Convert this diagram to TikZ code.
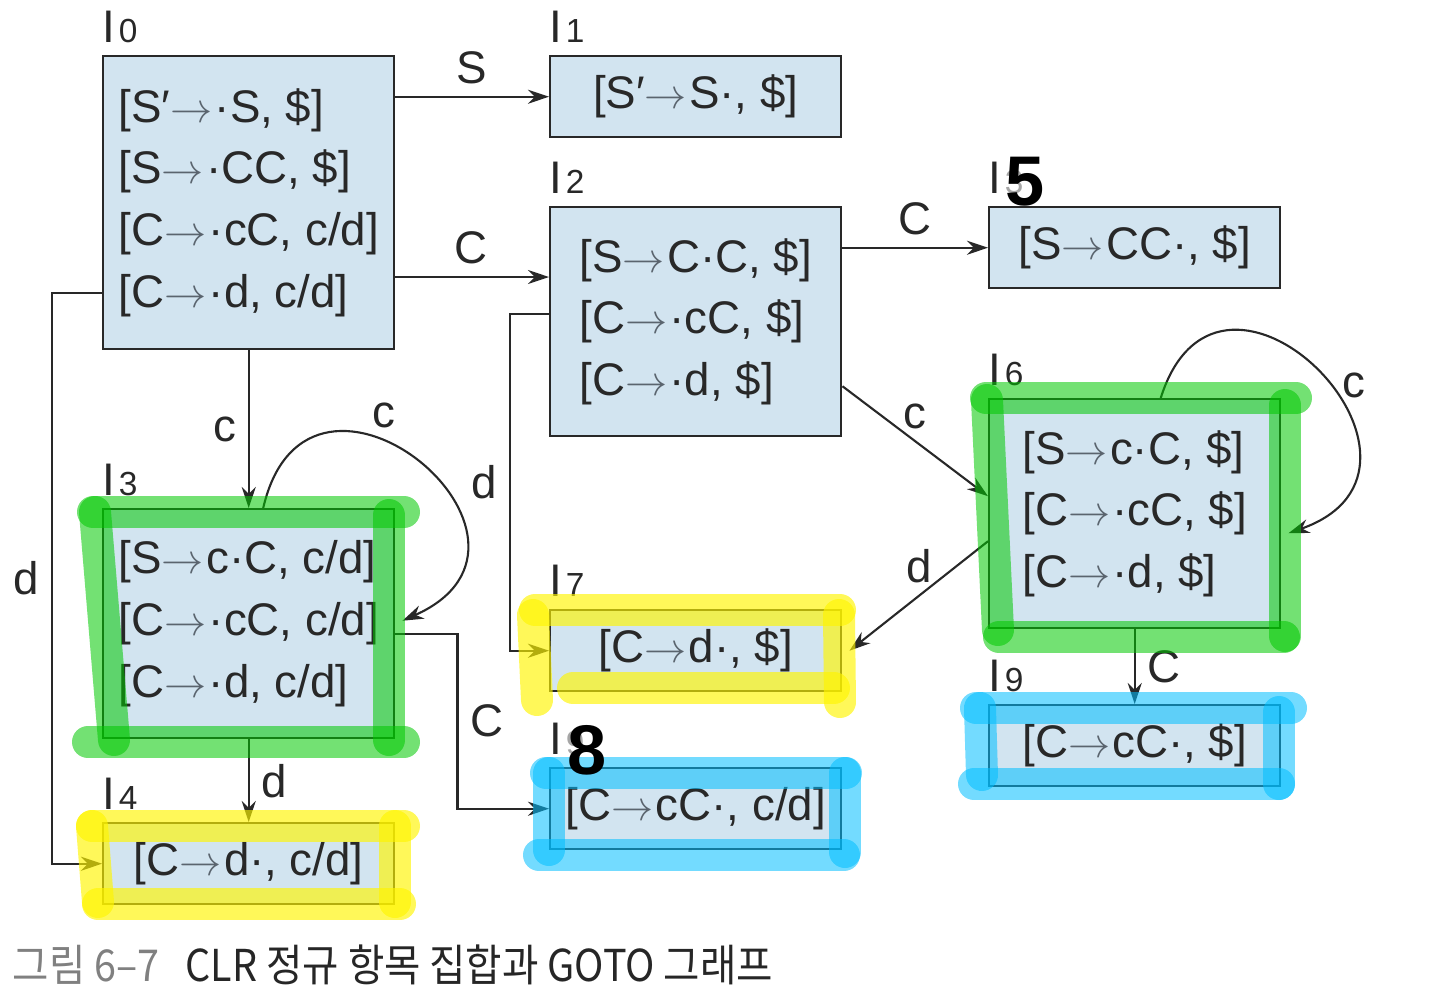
\documentclass[tikz,border=0pt]{standalone}
\usepackage{fontspec}
\setmainfont{Liberation Sans}
\newfontfamily\krfont[FakeStretch=0.9]{Noto Sans CJK KR}
\usepackage{xcolor}
\usetikzlibrary{arrows.meta,positioning,calc}

\definecolor{boxblue}{RGB}{210,228,240}
\definecolor{ink}{RGB}{40,40,40}
\definecolor{arrowgray}{RGB}{90,100,110}
\definecolor{hlgreen}{RGB}{0,200,0}
\definecolor{hlyellow}{RGB}{255,245,0}
\definecolor{hlcyan}{RGB}{0,190,255}

\newcommand{\yields}{{\color{arrowgray}$\rightarrow\mkern1mu$}}
\newcommand{\setno}[1]{I\kern1pt{\fontsize{9.5}{9.5}\selectfont #1}}

\tikzset{
    >={Stealth[length=6pt,width=4pt]},
    itemset/.style={draw=ink, fill=boxblue, line width=0.7pt, anchor=north west,
        align=left, inner sep=0pt, minimum width=29.1mm, text=ink,
        font=\fontsize{13}{17.6}\selectfont},
    onerow/.style={minimum height=8.1mm},
    threerow/.style={minimum height=22.9mm},
    fourrow/.style={minimum height=29.3mm},
    setname/.style={anchor=base west, inner sep=0pt, text=ink,
        font=\fontsize{13}{13}\selectfont},
    edgelabel/.style={font=\fontsize{13}{13}\selectfont, text=ink},
    goto/.style={->, draw=ink, line width=0.6pt},
    pen/.style={font=\fontsize{20}{20}\selectfont\bfseries, text=black, inner sep=0pt},
    marker/.style={line width=3.2mm, line cap=round},
    greenmark/.style={marker, draw=hlgreen, opacity=0.55},
    yellowmark/.style={marker, draw=hlyellow, opacity=0.65},
    cyanmark/.style={marker, draw=hlcyan, opacity=0.55},
}

\begin{document}
\begin{tikzpicture}[x=0.1mm, y=-0.1mm]
\useasboundingbox (0,0) rectangle (1455,1000);

% item sets
\node[itemset, fourrow] (i0) at (102,55)
    {{[}S′\yields·S, \$]\\ {[}S\yields·CC, \$]\\ {[}C\yields·cC, c/d]\\ {[}C\yields·d, c/d]};
\node[itemset, onerow] (i1) at (549,55) {{[}S′\yields S·, \$]};
\node[itemset, threerow] (i2) at (549,206)
    {{[}S\yields C·C, \$]\\ {[}C\yields·cC, \$]\\ {[}C\yields·d, \$]};
\node[itemset, onerow] (i5) at (988,206) {{[}S\yields CC·, \$]};
\node[itemset, threerow] (i6) at (988,398)
    {{[}S\yields c·C, \$]\\ {[}C\yields·cC, \$]\\ {[}C\yields·d, \$]};
\node[itemset, onerow] (i9) at (988,704) {{[}C\yields cC·, \$]};
\node[itemset, threerow] (i3) at (102,508)
    {{[}S\yields c·C, c/d]\\ {[}C\yields·cC, c/d]\\ {[}C\yields·d, c/d]};
\node[itemset, onerow] (i4) at (102,822) {{[}C\yields d·, c/d]};
\node[itemset, onerow] (i7) at (549,609) {{[}C\yields d·, \$]};
\node[itemset, onerow] (i8) at (549,767) {{[}C\yields cC·, c/d]};

% set names
\node[setname] (n0) at ([yshift=1.3mm]i0.north west) {\setno{0}};
\node[setname] (n1) at ([yshift=1.3mm]i1.north west) {\setno{1}};
\node[setname] (n2) at ([yshift=1.3mm]i2.north west) {\setno{2}};
\node[setname] (n5) at ([yshift=1.3mm]i5.north west) {\setno{\color{gray!70}3}};
\node[setname] (n6) at ([yshift=1.3mm]i6.north west) {\setno{6}};
\node[setname] (n9) at ([yshift=1.3mm]i9.north west) {\setno{9}};
\node[setname] (n3) at ([yshift=1.3mm]i3.north west) {\setno{3}};
\node[setname] (n4) at ([yshift=1.3mm]i4.north west) {\setno{4}};
\node[setname] (n7) at ([yshift=1.3mm]i7.north west) {\setno{7}};
\node[setname] (n8) at ([yshift=1.3mm]i8.north west) {\setno{\color{gray!70}9}};

% GOTO edges
\draw[goto] (i0.east |- i1) -- node[edgelabel, above]{S} (i1);
\coordinate (i0c) at (393,277);
\draw[goto] (i0c) -- node[edgelabel, above]{C} (i0c -| i2.west);
\draw[goto] (i0.south) -- node[edgelabel, left]{c} (i3.north);
\coordinate (i0d) at (102,293);
\draw[goto] (i0d) -- ++(-50,0) |- node[edgelabel, pos=.25, left]{d} (i4.west);

\draw[goto] (i2.east |- i5) -- node[edgelabel, above]{C} (i5);
\coordinate (i2d) at (549,314);
\draw[goto] (i2d) -- ++(-39,0) |- node[edgelabel, pos=.25, left]{d} (i7.west);
\draw[goto] ([yshift=-6.45mm]i2.east) -- node[edgelabel, above]{c} ([yshift=1.75mm]i6.west);

\draw[goto] ([xshift=2.6mm]i6.north) .. controls +(60,-190) and +(185,-65) ..
    ([shift={(0.7mm,-1.95mm)}]i6.east) node[edgelabel, pos=.55, right]{c};
\draw[goto] ([yshift=-2.75mm]i6.west) -- node[edgelabel, above]{d} ([xshift=0.7mm]i7.east);
\draw[goto] (i6.south) -- node[edgelabel, right]{C} (i9.north);

\draw[goto] ([xshift=1.45mm]i3.north) .. controls +(45,-195) and +(180,-80) ..
    ([shift={(0.7mm,0.3mm)}]i3.east) node[edgelabel, pos=.4, above]{c};
\draw[goto] (i3.south) -- node[edgelabel, right]{d} (i4.north);
\draw[goto] ([yshift=-1mm]i3.east) -- ++(62,0) |- node[edgelabel, pos=.25, right]{C} (i8.west);

% highlighter marks
\draw[greenmark] (93,512) -- (404,512);
\draw[greenmark] (95,512) -- (114,740);
\draw[greenmark] (389,515) -- (389,740);
\draw[greenmark] (88,742) -- (404,742);
\draw[greenmark] (986,398) -- (1296,398);
\draw[greenmark] (987,400) -- (998,630);
\draw[greenmark] (1285,405) -- (1285,636);
\draw[greenmark] (999,637) -- (1284,637);

\draw[yellowmark] (92,826) -- (404,826);
\draw[yellowmark] (92,826) -- (98,902);
\draw[yellowmark] (395,826) -- (395,902);
\draw[yellowmark] (98,904) -- (400,904);
\draw[yellowmark] (535,610) -- (840,610);
\draw[yellowmark] (533,615) -- (537,700);
\draw[yellowmark] (839,615) -- (840,702);
\draw[yellowmark] (573,688) -- (834,688);

\draw[cyanmark] (546,773) -- (846,773);
\draw[cyanmark] (549,773) -- (549,850);
\draw[cyanmark] (845,773) -- (845,852);
\draw[cyanmark] (539,855) -- (844,855);
\draw[cyanmark] (976,708) -- (1291,708);
\draw[cyanmark] (980,708) -- (982,775);
\draw[cyanmark] (1279,712) -- (1279,784);
\draw[cyanmark] (974,784) -- (1279,784);

% pen corrections
\node[pen] (h5) at (1025,182) {5};
\node[pen] (h8) at (587,750) {8};

% caption
\node[anchor=west, inner sep=0pt, font=\krfont\fontsize{12.5}{12.5}\selectfont] (caption) at (12,965)
    {{\color{gray}그림 6–7}\hspace{0.6em}{\color{black!85}CLR 정규 항목 집합과 GOTO 그래프}};
\end{tikzpicture}
\end{document}
